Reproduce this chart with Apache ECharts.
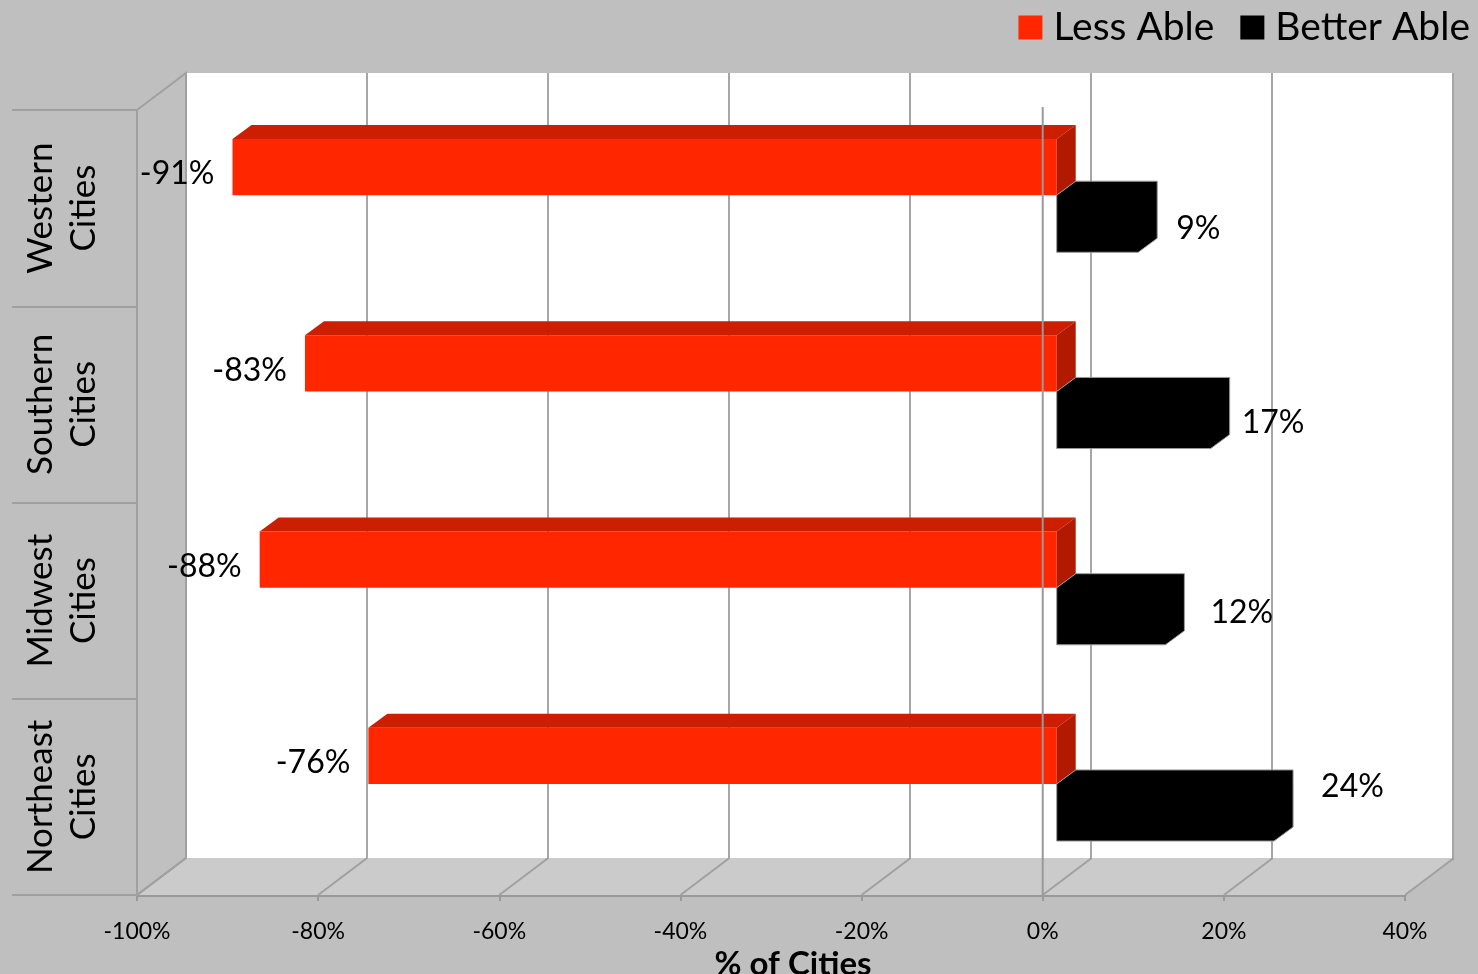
<!DOCTYPE html>
<html><head><meta charset="utf-8">
<script src="https://cdn.jsdelivr.net/npm/echarts@6/dist/echarts.min.js"></script>
<style>html,body{margin:0;padding:0;background:#bfbfbf;}#c{width:1478px;height:974px;}</style>
</head><body><div id="c"></div>
<script>
const categories = ['Western\nCities', 'Southern\nCities', 'Midwest\nCities', 'Northeast\nCities'];
const lessAble = [-0.91, -0.83, -0.88, -0.76];
const betterAble = [0.09, 0.17, 0.12, 0.24];
const lessLabels = ['-91%', '-83%', '-88%', '-76%'];
const betterLabels = ['9%', '17%', '12%', '24%'];
const xTicks = [-1, -0.8, -0.6, -0.4, -0.2, 0, 0.2, 0.4];

const FONT = 'Lato';
const FRONT = {left: 137, right: 73, top: 110, bottom: 79};
const BACK = {left: 186, right: 25, top: 73, bottom: 114};
const DX = BACK.left - FRONT.left, DY = BACK.top - FRONT.top;
const BAR_DX = 14;           // bar front-face offset into depth
const DEPTH = [19, -14];      // bar depth
const betterNudgeX = [0, -7, 7, 9];
const betterNudgeY = [2, 0, -7, -29];

const chart = echarts.init(document.getElementById('c'), null, {renderer: 'canvas'});

function barGeom(api, idx) {
  const c0 = api.coord([0, idx]);
  const band = api.size([0, 1])[1];
  const cy = c0[1];
  return {x0: c0[0] + BAR_DX, cy: cy, band: band,
    redTop: cy - 0.352 * band, mid: cy - 0.066 * band, blackBot: cy + 0.225 * band};
}

const gridCommon = {containLabel: false, outerBoundsMode: 'none'};

const option = {
  backgroundColor: '#bfbfbf',
  textStyle: {fontFamily: FONT},
  legend: {
    right: 3, top: 3, itemWidth: 24, itemHeight: 24, itemGap: 26,
    icon: 'rect',
    textStyle: {fontSize: 39, color: '#000', fontFamily: FONT, padding: [0, 0, 0, 6]},
    data: [{name: 'Less Able', itemStyle: {color: '#ff2600'}}, {name: 'Better Able', itemStyle: {color: '#000'}}]
  },
  grid: [
    Object.assign({}, gridCommon, FRONT),
    Object.assign({show: true, backgroundColor: '#ffffff', borderWidth: 0}, gridCommon, BACK)
  ],
  xAxis: [
    {gridIndex: 0, type: 'value', min: -1, max: 0.4, interval: 0.2,
     axisLine: {show: true, onZero: false, lineStyle: {color: '#999999', width: 3}},
     axisTick: {show: true, length: 6, lineStyle: {color: '#999999', width: 2}},
     splitLine: {show: false},
     axisLabel: {fontSize: 23, color: '#000', margin: 25, fontFamily: FONT,
       formatter: v => Math.round(v * 100) + '%'},
     name: '% of Cities', nameLocation: 'middle', nameGap: 50,
     nameTextStyle: {fontSize: 33, fontWeight: 'bold', color: '#000', fontFamily: FONT, padding: [0, 0, 0, 44]}},
    {gridIndex: 1, type: 'value', min: -1, max: 0.4, interval: 0.2,
     axisLine: {show: false}, axisTick: {show: false}, axisLabel: {show: false},
     splitLine: {show: true, lineStyle: {color: '#a6a6a6', width: 2}}}
  ],
  yAxis: [
    {gridIndex: 0, type: 'category', data: categories, inverse: true,
     axisLine: {show: true, onZero: false, lineStyle: {color: '#a0a0a0', width: 2}},
     axisTick: {show: true, interval: 0, length: 125, alignWithLabel: false, lineStyle: {color: '#a0a0a0', width: 2}},
     axisLabel: {interval: 0, hideOverlap: false, rotate: 90, fontSize: 35, lineHeight: 43, color: '#000', fontFamily: FONT,
       align: 'center', verticalAlign: 'middle', margin: 75},
     splitLine: {show: false}},
    {gridIndex: 1, type: 'category', data: categories, inverse: true, show: false}
  ],
  series: [
    {
      type: 'custom', name: 'frame', xAxisIndex: 0, yAxisIndex: 0, z: 1, silent: true,
      data: xTicks.map(v => [v, 0]),
      renderItem: function (params, api) {
        const cs = params.coordSys;
        const bottom = cs.y + cs.height, top = cs.y;
        const x = api.coord([api.value(0), 0])[0];
        const children = [];
        if (params.dataIndex === 0) {
          const xl = cs.x, xr = cs.x + cs.width;
          children.push({type: 'polygon', shape: {points: [[xl, bottom], [xl + DX, bottom + DY], [xr + DX, bottom + DY], [xr, bottom]]},
            style: {fill: '#cbcbcb'}});
          children.push({type: 'polygon', shape: {points: [[xl, top], [xl + DX, top + DY], [xl + DX, bottom + DY], [xl, bottom]]},
            style: {fill: '#c0c0c0', stroke: '#a0a0a0', lineWidth: 2}});
        }
        children.push({type: 'line', shape: {x1: x, y1: bottom, x2: x + DX, y2: bottom + DY},
          style: {stroke: '#a0a0a0', lineWidth: 2}});
        return {type: 'group', children: children};
      }
    },
    {
      type: 'custom', name: 'Less Able', xAxisIndex: 0, yAxisIndex: 0, z: 3,
      itemStyle: {color: '#ff2600'},
      data: lessAble.map((v, i) => [v, i]),
      renderItem: function (params, api) {
        const i = api.value(1), v = api.value(0);
        const g = barGeom(api, i);
        const x1 = api.coord([v, i])[0] + BAR_DX, x0 = g.x0;
        const t = g.redTop, b = g.mid, dx = DEPTH[0], dy = DEPTH[1];
        return {type: 'group', children: [
          {type: 'rect', shape: {x: x1, y: t, width: x0 - x1, height: b - t}, style: {fill: '#ff2600'}},
          {type: 'polygon', shape: {points: [[x1, t], [x1 + dx, t + dy], [x0 + dx, t + dy], [x0, t]]}, style: {fill: '#cc1e00'}},
          {type: 'polygon', shape: {points: [[x0, t], [x0 + dx, t + dy], [x0 + dx, b + dy], [x0, b]]}, style: {fill: '#b21a00'}},
          {type: 'text', x: x1 - 18, y: (t + b) / 2 + 7,
           style: {text: lessLabels[params.dataIndex], fill: '#000', fontSize: 32, fontFamily: FONT, align: 'right', verticalAlign: 'middle'}}
        ]};
      }
    },
    {
      type: 'custom', name: 'Better Able', xAxisIndex: 0, yAxisIndex: 0, z: 3,
      itemStyle: {color: '#000'},
      data: betterAble.map((v, i) => [v, i]),
      renderItem: function (params, api) {
        const i = api.value(1), v = api.value(0);
        const g = barGeom(api, i);
        const x1 = api.coord([v, i])[0] + BAR_DX, x0 = g.x0;
        const t = g.mid, b = g.blackBot, dx = DEPTH[0], dy = DEPTH[1];
        const k = params.dataIndex;
        return {type: 'group', children: [
          {type: 'polygon', shape: {points: [[x0, t], [x0 + dx, t + dy], [x1 + dx, t + dy], [x1 + dx, b + dy], [x1, b], [x0, b]]},
           style: {fill: '#000', stroke: '#9a9a9a', lineWidth: 1}},
          {type: 'text', x: x1 + dx + 19 + betterNudgeX[k], y: (t + b) / 2 + 3 + betterNudgeY[k],
           style: {text: betterLabels[k], fill: '#000', fontSize: 32, fontFamily: FONT, align: 'left', verticalAlign: 'middle'}}
        ]};
      }
    },
    {
      type: 'custom', name: 'zero', xAxisIndex: 0, yAxisIndex: 0, z: 4, silent: true,
      data: [[0, 0]],
      renderItem: function (params, api) {
        const cs = params.coordSys;
        const x = api.coord([0, 0])[0];
        return {type: 'line', shape: {x1: x, y1: cs.y - 3, x2: x, y2: cs.y + cs.height},
          style: {stroke: '#999999', lineWidth: 2}};
      }
    }
  ]
};
chart.setOption(option);
</script></body></html>
